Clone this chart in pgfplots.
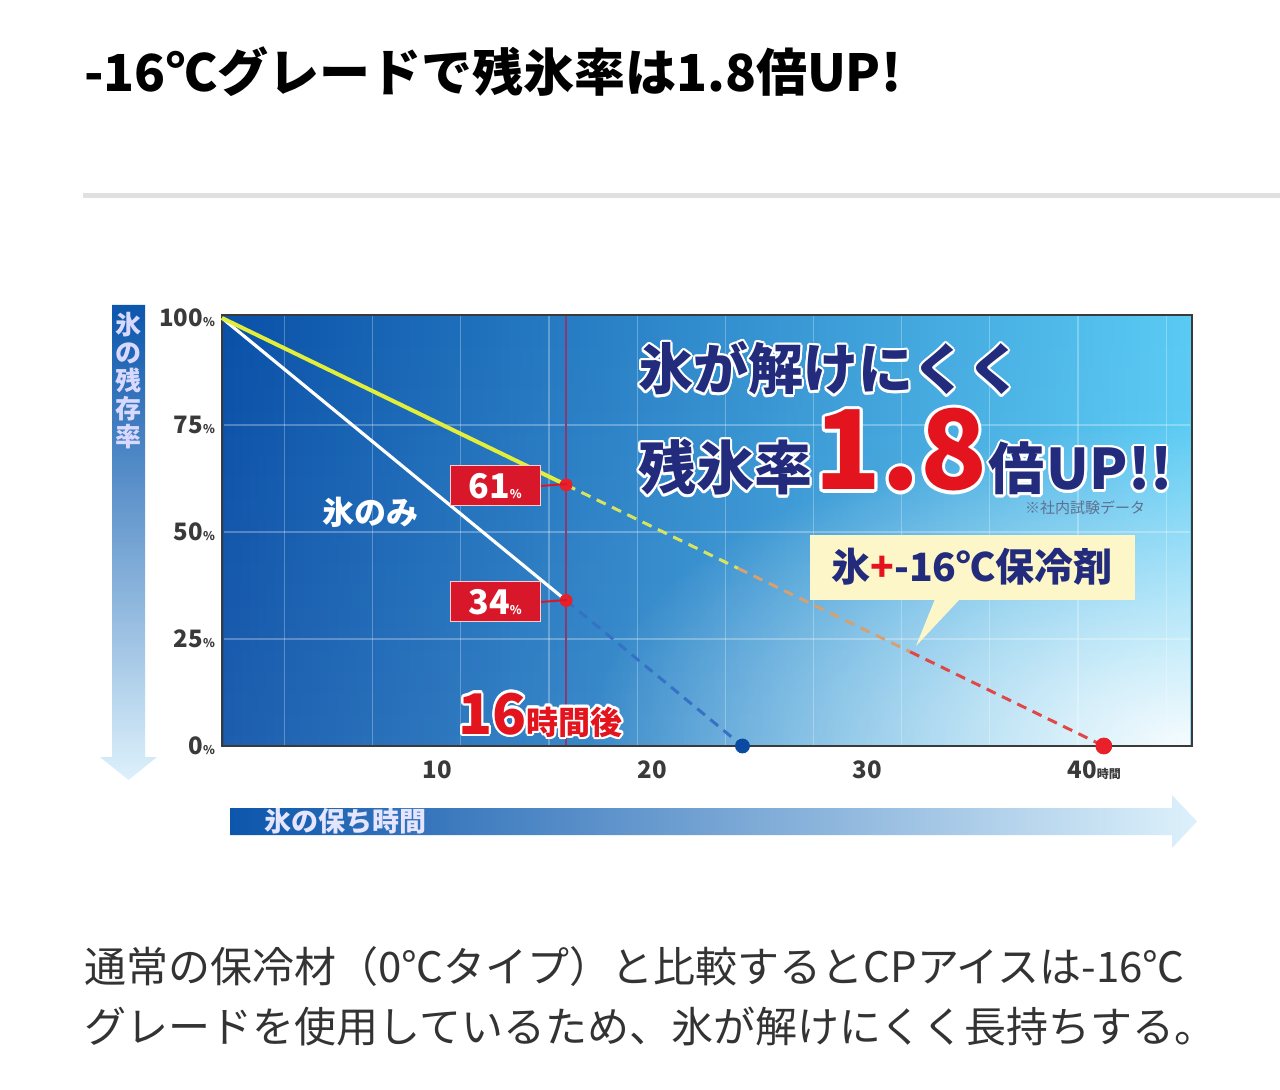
\documentclass[border=0pt]{standalone}
\usepackage{pgfplots}
\pgfplotsset{compat=1.18}
\usetikzlibrary{fadings}
\usepackage{fontspec}
\setmainfont{Noto Sans CJK JP}
\usepackage{contour}
\contourlength{1.1pt}

\definecolor{bgL}{HTML}{0A50A8}
\definecolor{bgM}{HTML}{1E90DC}
\definecolor{bgR}{HTML}{5ACBF4}
\definecolor{frame}{HTML}{3A3A3A}
\definecolor{tickc}{HTML}{3A3A3A}
\definecolor{navy}{HTML}{232C7C}
\definecolor{hred}{HTML}{E3141E}
\definecolor{boxred}{HTML}{D8182A}
\definecolor{vline}{HTML}{8A3A70}
\definecolor{dashblue}{HTML}{3572C4}
\definecolor{packy}{HTML}{E2EE3A}
\definecolor{packy2}{HTML}{D6E460}
\definecolor{packo}{HTML}{D6A070}
\definecolor{packr}{HTML}{E04848}
\definecolor{dotred}{HTML}{E8202A}
\definecolor{dotblue}{HTML}{0A4AA0}
\definecolor{callout}{HTML}{FDF6C8}
\definecolor{note}{HTML}{5E7090}
\definecolor{arrowdark}{HTML}{0C56AC}
\definecolor{arrowmid}{HTML}{3C9CE0}
\definecolor{arrowlight}{HTML}{DDF1FB}
\definecolor{bodytext}{HTML}{333333}

\tikzfading[name=glow, inner color=transparent!0, outer color=transparent!100]
\newcommand\pc{{\fontsize{6}{6}\selectfont\%}}

\begin{document}
\begin{tikzpicture}
% page, title, rule, axis arrows (pixel grid: 1px = 0.5pt, y downwards)
\begin{scope}[x=0.5pt,y=-0.5pt]
\path[use as bounding box, fill=white] (0,0) rectangle (1280,1090);
\node[anchor=base west, inner sep=0pt, font=\bfseries\fontsize{25.5}{26}\selectfont]
  at (84,92) {-16℃グレードで残氷率は1.8倍UP!};
\fill[black!12] (83,193) rectangle (1280,198);
% vertical arrow
\shade[top color=arrowdark, middle color=arrowmid, bottom color=arrowlight]
  (112,305) -- (145,305) -- (145,757) -- (157,757) -- (128.5,780) -- (100,757) -- (112,757) -- cycle;
\node[anchor=north, inner sep=0pt, align=center, text=white!85!blue,
  font=\bfseries\fontsize{13}{14}\selectfont] at (128.5,312) {氷\\の\\残\\存\\率};
% horizontal arrow
\shade[left color=arrowdark, middle color=arrowmid, right color=arrowlight]
  (230,808) -- (1172,808) -- (1172,795) -- (1197,821.5) -- (1172,848) -- (1172,835) -- (230,835) -- cycle;
\node[anchor=west, inner sep=0pt, text=white!90!blue,
  font=\bfseries\fontsize{13.5}{14}\selectfont] at (264,821.5) {氷の保ち時間};
% body text
\node[anchor=base west, inner sep=0pt, text=bodytext, font=\fontsize{21}{21}\selectfont]
  at (84,982) {通常の保冷材（0℃タイプ）と比較するとCPアイスは-16℃};
\node[anchor=base west, inner sep=0pt, text=bodytext, font=\fontsize{21}{21}\selectfont]
  at (84,1042) {グレードを使用しているため、氷が解けにくく長持ちする。};
\end{scope}

\begin{axis}[
  at={(111pt,-373pt)}, anchor=south west,
  scale only axis, width=485pt, height=215.5pt,
  xmin=0, xmax=45.1, ymin=0, ymax=100.7,
  clip=false,
  axis background/.style={left color=bgL, middle color=bgM, right color=bgR},
  axis line style={draw=frame, line width=1.4pt},
  xtick={10,20,30,40},
  xticklabels={10,20,30,{40\rlap{\fontsize{6}{6}\selectfont 時間}}},
  ytick={0,25,50,75,100},
  yticklabels={0\pc,25\pc,50\pc,75\pc,100\pc},
  major tick length=0pt,
  tick label style={font=\bfseries\fontsize{12}{12}\selectfont, text=tickc},
  xticklabel style={yshift=-4pt},
]
\begin{scope}
\clip (axis cs:0.07,0.33) rectangle (axis cs:45.03,100.37);
\fill[white, path fading=glow, fill opacity=0.95] (axis cs:17,-75) rectangle (axis cs:73,75);
\fill[white, path fading=north, fill opacity=0.08] (axis cs:0,0) rectangle (axis cs:45.1,100.7);
\end{scope}
\pgfplotsinvokeforeach{2.9,7.0,11.1,15.2,19.3,23.4,27.5,31.6,35.7,39.8,43.9}{
  \draw[white, opacity=0.28, line width=0.6pt] (axis cs:#1,0.33) -- (axis cs:#1,100.37);}
\pgfplotsinvokeforeach{25,50,75}{
  \draw[white, opacity=0.28, line width=0.6pt] (axis cs:0.07,#1) -- (axis cs:45.03,#1);}

\addplot[vline, line width=1pt] coordinates {(16,0.33) (16,100.37)};
% ice only
\addplot[white, line width=1.6pt] coordinates {(0,100) (16,34)};
\addplot[dashblue, line width=1.5pt, dash pattern=on 5pt off 3.5pt] coordinates {(16,34) (24.2,0)};
% ice + -16C pack
\addplot[packy, line width=2pt] coordinates {(0,100) (16,61)};
\addplot[packy2, line width=1.5pt, dash pattern=on 5pt off 3.5pt] coordinates {(16,61) (24,41.5)};
\addplot[packo, line width=1.5pt, dash pattern=on 5pt off 3.5pt] coordinates {(24,41.5) (32,22)};
\addplot[packr, line width=1.5pt, dash pattern=on 5pt off 3.5pt] coordinates {(32,22) (41,0)};
% markers
\addplot[only marks, mark=*, mark size=3pt, dotred] coordinates {(16,61) (16,34)};
\addplot[only marks, mark=*, mark size=3.5pt, dotblue] coordinates {(24.2,0)};
\addplot[only marks, mark=*, mark size=4pt, dotred] coordinates {(41,0)};
\end{axis}

% annotations
\begin{scope}[x=0.5pt,y=-0.5pt]
\draw[boxred, line width=1pt] (540,486) -- (567,484);
\draw[boxred, line width=1pt] (540,602) -- (567,600);
\node[fill=boxred, draw=white!80!red, line width=0.5pt, text=white, minimum width=45pt, minimum height=20pt,
  inner sep=0pt, font=\bfseries\fontsize{17}{17}\selectfont] at (495,486) {61\pc};
\node[fill=boxred, draw=white!80!red, line width=0.5pt, text=white, minimum width=45pt, minimum height=20pt,
  inner sep=0pt, font=\bfseries\fontsize{17}{17}\selectfont] at (495,602) {34\pc};
\node[text=white, font=\bfseries\fontsize{16}{16}\selectfont] at (370,512) {氷のみ};
\node[anchor=base west, inner sep=0pt, text=hred] at (458,734)
  {\contour{white}{\bfseries\fontsize{28}{28}\selectfont 16}\contour{white}{\bfseries\fontsize{16}{16}\selectfont 時間後}};
% headline
\node[anchor=base west, inner sep=0pt, text=navy] at (638,390)
  {\contour{white}{\bfseries\fontsize{27.5}{28}\selectfont 氷が解けにくく}};
\node[anchor=base west, inner sep=0pt] at (638,490)
  {{\color{navy}\contour{white}{\bfseries\fontsize{29}{29}\selectfont 残氷率}}\kern1pt{\color{hred}\contourlength{1.6pt}\contour{white}{\bfseries\fontsize{55}{55}\selectfont 1.8}}\kern1pt{\color{navy}\contour{white}{\bfseries\fontsize{28}{28}\selectfont 倍}}\kern1pt{\color{navy}\contour{white}{\bfseries\fontsize{28}{28}\selectfont UP!!}}};
\node[text=note, font=\fontsize{7.5}{8}\selectfont] at (1085,508) {※社内試験データ};
% callout
\fill[callout] (810,535) rectangle (1135,600);
\fill[callout] (935,599) -- (960,599) -- (916,646) -- cycle;
\node[anchor=center, inner sep=0pt, text=navy, font=\bfseries\fontsize{19.5}{20}\selectfont] at (972,567)
  {氷{\color{hred}+}-16℃保冷剤};
\end{scope}
\end{tikzpicture}
\end{document}
